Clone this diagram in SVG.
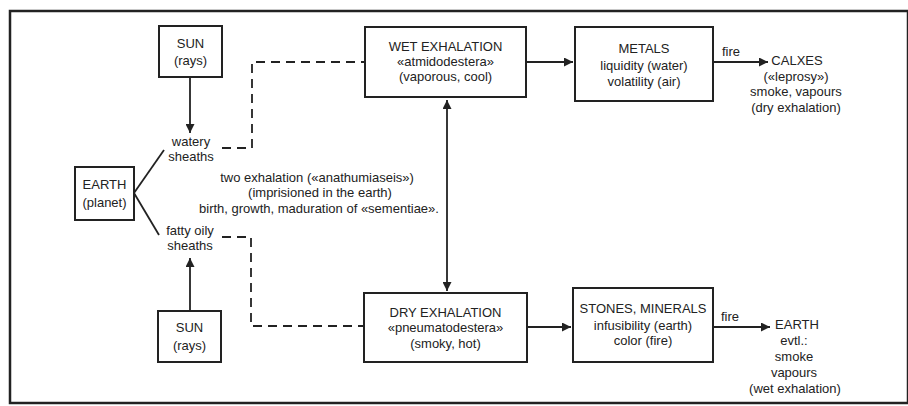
<svg xmlns="http://www.w3.org/2000/svg" width="908" height="406" viewBox="0 0 908 406">
<style>
  .box { fill: #fff; stroke: #222; stroke-width: 2; }
  .t { font-family: "Liberation Sans", Arial, sans-serif; font-size: 13px; fill: #222; text-anchor: middle; }
  .ln { fill: none; stroke: #222; stroke-width: 1.8; }
  .dash { fill: none; stroke: #222; stroke-width: 1.8; stroke-dasharray: 9 6; }
</style>
<defs>
  <marker id="ah" viewBox="0 0 10 10" refX="10" refY="5" markerWidth="5" markerHeight="5" orient="auto-start-reverse" markerUnits="strokeWidth">
    <path d="M0,0 L10,5 L0,10 Z" fill="#222"/>
  </marker>
</defs>
<rect width="908" height="406" fill="#fff"/>
<rect x="10" y="11" width="898" height="392" fill="none" stroke="#222" stroke-width="2.5"/>

<g id="connectors">
  <line class="ln" x1="190" y1="77" x2="190" y2="133" marker-end="url(#ah)"/>
  <line class="ln" x1="190" y1="311" x2="190" y2="258" marker-end="url(#ah)"/>
  <line class="ln" x1="134" y1="193" x2="164" y2="150"/>
  <line class="ln" x1="134" y1="193" x2="159" y2="235"/>
  <polyline class="dash" points="222,148 252,148 252,62 365,62"/>
  <polyline class="dash" points="222,237 251,237 251,326 364,326"/>
  <line class="ln" x1="447" y1="100" x2="447" y2="291" marker-start="url(#ah)" marker-end="url(#ah)"/>
  <line class="ln" x1="526" y1="62" x2="573" y2="62" marker-end="url(#ah)"/>
  <line class="ln" x1="527" y1="327" x2="571" y2="327" marker-end="url(#ah)"/>
  <line class="ln" x1="713" y1="62" x2="768" y2="62" marker-end="url(#ah)"/>
  <text class="t" x="731" y="56">fire</text>
  <line class="ln" x1="713" y1="327" x2="770" y2="327" marker-end="url(#ah)"/>
  <text class="t" x="730" y="321">fire</text>
</g>

<g id="sun-top">
  <rect class="box" x="159" y="26" width="63" height="51"/>
  <text class="t" x="190.5" y="48">SUN</text>
  <text class="t" x="190.5" y="65">(rays)</text>
</g>
<g id="watery">
  <text class="t" x="191" y="146">watery</text>
  <text class="t" x="191" y="161">sheaths</text>
</g>
<g id="earth-planet">
  <rect class="box" x="75" y="167" width="59" height="53"/>
  <text class="t" x="104.5" y="189">EARTH</text>
  <text class="t" x="104.5" y="207">(planet)</text>
</g>
<g id="fatty">
  <text class="t" x="190" y="235">fatty oily</text>
  <text class="t" x="190" y="250">sheaths</text>
</g>
<g id="sun-bottom">
  <rect class="box" x="158" y="311" width="63" height="51"/>
  <text class="t" x="189.5" y="332">SUN</text>
  <text class="t" x="189.5" y="350">(rays)</text>
</g>
<g id="center-text">
  <text class="t" x="317" y="182">two exhalation («anathumiaseis»)</text>
  <text class="t" x="320" y="197">(imprisioned in the earth)</text>
  <text class="t" x="319" y="213">birth, growth, maduration of «sementiae».</text>
</g>
<g id="wet">
  <rect class="box" x="365" y="27" width="161" height="70"/>
  <text class="t" x="445.5" y="51">WET EXHALATION</text>
  <text class="t" x="445.5" y="66">«atmidodestera»</text>
  <text class="t" x="445.5" y="81">(vaporous, cool)</text>
</g>
<g id="dry">
  <rect class="box" x="364" y="293" width="163" height="69"/>
  <text class="t" x="445.5" y="317">DRY EXHALATION</text>
  <text class="t" x="445.5" y="332">«pneumatodestera»</text>
  <text class="t" x="445.5" y="348">(smoky, hot)</text>
</g>
<g id="metals">
  <rect class="box" x="575" y="27" width="138" height="74"/>
  <text class="t" x="644" y="53">METALS</text>
  <text class="t" x="644" y="70">liquidity (water)</text>
  <text class="t" x="644" y="86">volatility (air)</text>
</g>
<g id="stones">
  <rect class="box" x="573" y="288" width="140" height="74"/>
  <text class="t" x="643" y="313">STONES, MINERALS</text>
  <text class="t" x="643" y="330">infusibility (earth)</text>
  <text class="t" x="643" y="345">color (fire)</text>
</g>
<g id="calxes">
  <text class="t" x="797" y="65">CALXES</text>
  <text class="t" x="796" y="81">(«leprosy»)</text>
  <text class="t" x="796" y="96">smoke, vapours</text>
  <text class="t" x="796" y="112">(dry exhalation)</text>
</g>
<g id="earth-result">
  <text class="t" x="797" y="329">EARTH</text>
  <text class="t" x="794" y="345">evtl.:</text>
  <text class="t" x="794" y="361">smoke</text>
  <text class="t" x="794" y="377">vapours</text>
  <text class="t" x="795" y="393">(wet exhalation)</text>
</g>
</svg>
